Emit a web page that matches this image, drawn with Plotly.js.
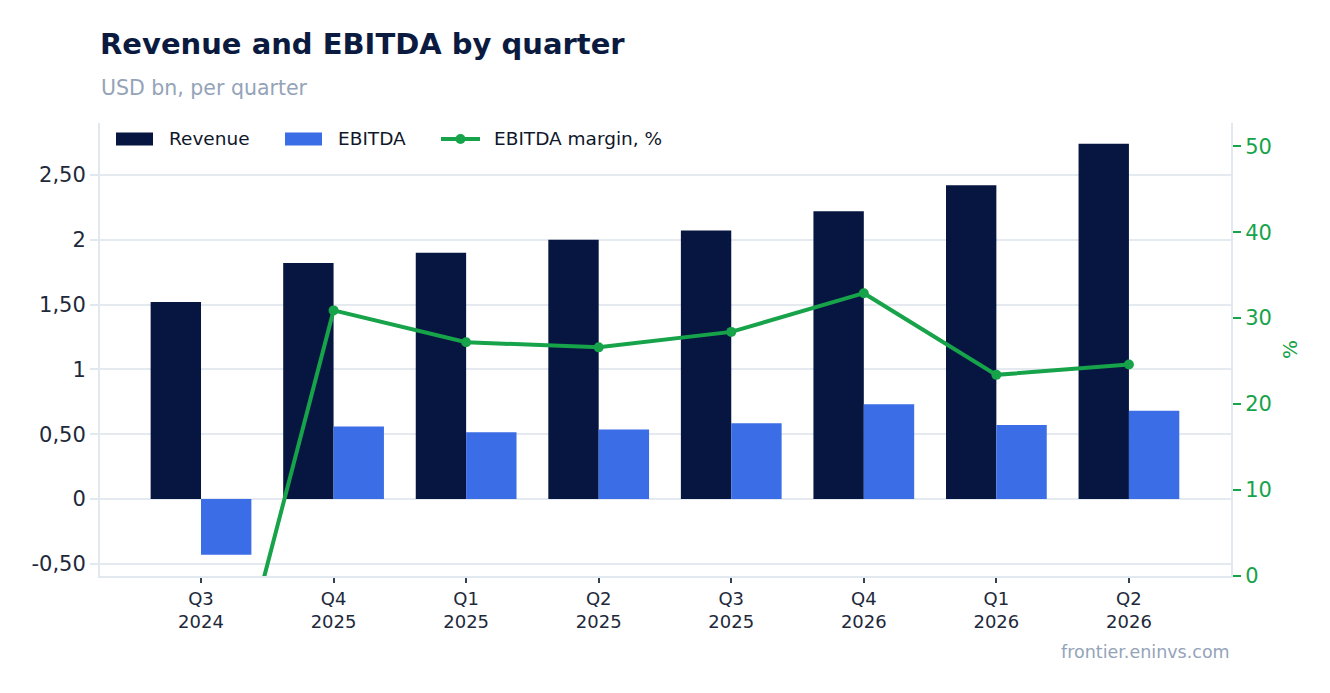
<!DOCTYPE html>
<html>
<head>
<meta charset="utf-8">
<script src="https://cdn.plot.ly/plotly-3.0.1.min.js"></script>
<style>html,body{margin:0;padding:0;background:#fff;}#chart{width:1330px;height:693px;}</style>
</head>
<body>
<div id="chart"></div>
<script>
const quarters = ["Q3", "Q4", "Q1", "Q2", "Q3", "Q4", "Q1", "Q2"];
const years = ["2024", "2025", "2025", "2025", "2025", "2026", "2026", "2026"];
const revenue = [1.52, 1.82, 1.90, 2.00, 2.07, 2.22, 2.42, 2.74];
const ebitda = [-0.43, 0.56, 0.515, 0.535, 0.585, 0.73, 0.57, 0.68];
const margin = [-28.3, 30.9, 27.2, 26.6, 28.4, 32.9, 23.4, 24.6];
const leftTickVals = [-0.5, 0, 0.5, 1, 1.5, 2, 2.5];
const leftTickText = ["-0,50", "0", "0,50", "1", "1,50", "2", "2,50"];
const rightTickVals = [0, 10, 20, 30, 40, 50];
const seriesNames = ["Revenue", "EBITDA", "EBITDA margin, %"];

const cats = quarters.map((q, i) => q + "<br>" + years[i]);
const FONT = "DejaVu Sans, sans-serif";
const NAVY = "#061640";
const BLUE = "#3b6de6";
const GREEN = "#16a34a";

const traces = [
  {type: "bar", name: seriesNames[0], x: cats, y: revenue, marker: {color: NAVY}},
  {type: "bar", name: seriesNames[1], x: cats, y: ebitda, marker: {color: BLUE}},
  {type: "scatter", mode: "lines+markers", name: seriesNames[2], x: cats, y: margin, yaxis: "y2",
   line: {color: GREEN, width: 4}, marker: {color: GREEN, size: 10}}
];

// custom legend (paper coordinates)
const PW = 1131, PH = 453, PL = 100, PB = 576;
const px = v => (v - PL) / PW;
const py = v => (PB - v) / PH;
const legY = py(139);
const shapes = [
  {type: "rect", xref: "paper", yref: "paper", x0: px(116), x1: px(153), y0: py(145.5), y1: py(132.5), fillcolor: NAVY, line: {width: 0}},
  {type: "rect", xref: "paper", yref: "paper", x0: px(285), x1: px(322), y0: py(145.5), y1: py(132.5), fillcolor: BLUE, line: {width: 0}},
  {type: "line", xref: "paper", yref: "paper", x0: px(441), x1: px(480), y0: legY, y1: legY, line: {color: GREEN, width: 4}},
  {type: "circle", xref: "paper", yref: "paper", xsizemode: "pixel", ysizemode: "pixel",
   xanchor: px(460.5), yanchor: legY, x0: -5, x1: 5, y0: -5, y1: 5, fillcolor: GREEN, line: {width: 0}}
];
const legText = (t, x) => ({text: t, xref: "paper", yref: "paper", x: px(x), xanchor: "left", y: legY, yanchor: "middle",
  showarrow: false, borderpad: 0, font: {family: FONT, size: 18.5, color: "#0f172a"}});

const layout = {
  width: 1330, height: 693,
  margin: {l: 100, r: 99, t: 123, b: 117},
  paper_bgcolor: "#fff", plot_bgcolor: "#fff",
  font: {family: FONT, color: "#0f172a"},
  barmode: "group", bargap: 0.24, bargroupgap: 0,
  showlegend: false,
  title: {text: "<b>Revenue and EBITDA by quarter</b>", x: 100/1330, xanchor: "left", xref: "container",
          y: 1 - 44/693, yanchor: "middle", yref: "container",
          font: {family: FONT, size: 29, color: "#0b1a3f"}},
  xaxis: {type: "category", range: [-0.762, 7.77], showline: true, linecolor: "#e2e8f0", linewidth: 2,
          ticks: "outside", tickcolor: "#334155", ticklen: 5, tickwidth: 1.5,
          tickfont: {size: 18, color: "#1e293b"}, showgrid: false},
  yaxis: {range: [-0.594, 2.90], tickvals: leftTickVals, ticktext: leftTickText,
          showline: true, linecolor: "#e2e8f0", linewidth: 2,
          ticks: "outside", tickcolor: "#e2e8f0", ticklen: 8, tickwidth: 2,
          gridcolor: "#e5e9f0", gridwidth: 2, zeroline: false,
          tickfont: {size: 21, color: "#1e293b"}},
  yaxis2: {overlaying: "y", side: "right", range: [0, 52.7], tickvals: rightTickVals,
           showline: true, linecolor: "#e2e8f0", linewidth: 2, showgrid: false, zeroline: false,
           ticks: "outside", tickcolor: GREEN, ticklen: 8, tickwidth: 2,
           tickfont: {size: 21, color: GREEN},
           title: {text: "%", font: {size: 20, color: GREEN}, standoff: 12}},
  shapes: shapes,
  annotations: [
    {text: "USD bn, per quarter", xref: "paper", yref: "paper", x: 0, xanchor: "left",
     y: 1 + (123 - 88) / PH, yanchor: "middle", showarrow: false, borderpad: 0,
     font: {family: FONT, size: 20.5, color: "#94a3b8"}},
    {text: "frontier.eninvs.com", xref: "paper", yref: "paper", x: 1, xanchor: "right",
     y: (PB - 652) / PH, yanchor: "middle", showarrow: false, borderpad: 0,
     font: {family: FONT, size: 17.5, color: "#94a3b8"}},
    legText(seriesNames[0], 168),
    legText(seriesNames[1], 337),
    legText(seriesNames[2], 493)
  ]
};

Plotly.newPlot("chart", traces, layout, {displayModeBar: false, responsive: false});
</script>
</body>
</html>
